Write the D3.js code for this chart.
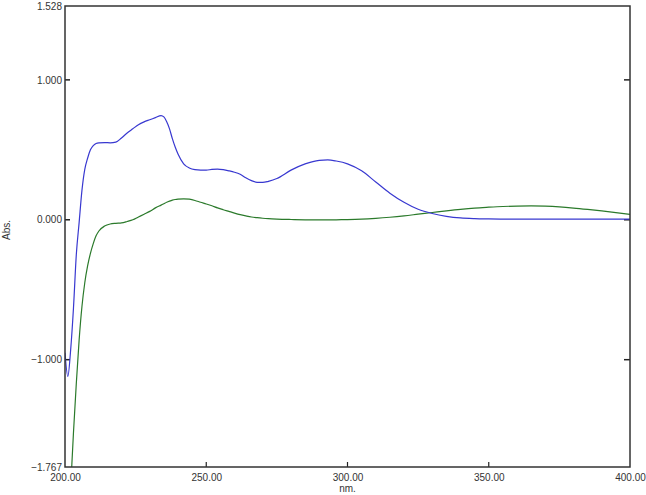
<!DOCTYPE html>
<html>
<head>
<meta charset="utf-8">
<script src="https://cdn.jsdelivr.net/npm/d3@7"></script>
<style>
  html, body { margin: 0; padding: 0; background: #fff; }
  text { font-family: "Liberation Sans", Arial, sans-serif; }
</style>
</head>
<body>
<svg id="chart" width="646" height="495"></svg>
<script>
const wavelengths = [200,201,202,203,204,205,206,207,208,209,210,211,212,214,216,218,220,222,224,226,228,230,232,234,235,236,237,238,239,240,242,244,246,248,250,252,254,256,258,260,262,264,266,268,270,272,275,280,285,290,293,296,300,305,310,315,320,325,330,335,340,345,350,355,360,365,370,375,380,385,390,395,400];

const blueAbs = [-0.95,-1.12,-0.93,-0.63,-0.25,-0.02,0.21,0.36,0.44,0.50,0.53,0.545,0.55,0.552,0.55,0.555,0.585,0.62,0.65,0.68,0.70,0.715,0.73,0.745,0.735,0.70,0.65,0.58,0.52,0.47,0.40,0.37,0.358,0.355,0.355,0.36,0.362,0.358,0.35,0.34,0.325,0.30,0.28,0.268,0.267,0.275,0.295,0.355,0.40,0.425,0.428,0.42,0.40,0.35,0.27,0.19,0.125,0.075,0.045,0.025,0.013,0.008,0.006,0.005,0.005,0.004,0.004,0.004,0.004,0.004,0.004,0.004,0.004];

const greenAbs = [-2.7,-2.3,-1.92,-1.52,-1.17,-0.86,-0.62,-0.45,-0.33,-0.24,-0.17,-0.115,-0.08,-0.045,-0.03,-0.025,-0.022,-0.012,0.0,0.02,0.04,0.06,0.085,0.105,0.115,0.125,0.133,0.14,0.145,0.148,0.15,0.147,0.138,0.125,0.113,0.10,0.085,0.072,0.06,0.048,0.037,0.028,0.02,0.015,0.011,0.008,0.005,0.002,0.0,-0.001,-0.001,0.0,0.001,0.004,0.01,0.018,0.028,0.04,0.052,0.064,0.075,0.084,0.09,0.095,0.098,0.099,0.097,0.092,0.084,0.074,0.063,0.051,0.038];

const yTickValues = [1.528, 1.000, 0.000, -1.000, -1.767];
const xTickValues = [200, 250, 300, 350, 400];
const xAxisTitle = "nm.";
const yAxisTitle = "Abs.";

const svg = d3.select("#chart");
const L = 65, R = 630, T = 6, B = 467;

const x = d3.scaleLinear().domain([200, 400]).range([L, R]);
const y = d3.scaleLinear().domain([-1.767, 1.528]).range([B, T]);

svg.append("defs").append("clipPath").attr("id", "clip")
  .append("rect").attr("x", L).attr("y", T).attr("width", R - L).attr("height", B - T);

const textColor = "#333";

// Left axis labels + inward ticks
const yg = svg.append("g").attr("transform", `translate(${L},0)`)
  .call(d3.axisLeft(y).tickValues(yTickValues).tickSize(0).tickPadding(3).tickFormat(d3.format(".3f")));
yg.select(".domain").remove();
yg.selectAll("text").attr("font-size", 10).attr("fill", textColor).attr("font-family", "Liberation Sans, Arial, sans-serif");

const innerY = [1.000, 0.000, -1.000];
svg.append("g").selectAll("line.lt").data(innerY).join("line")
  .attr("x1", L).attr("x2", L + 5).attr("y1", d => y(d)).attr("y2", d => y(d))
  .attr("stroke", "#222").attr("stroke-width", 1.5);
svg.append("g").selectAll("line.rt").data(innerY).join("line")
  .attr("x1", R - 6).attr("x2", R).attr("y1", d => y(d)).attr("y2", d => y(d))
  .attr("stroke", "#222").attr("stroke-width", 1.5);

// Bottom axis labels + inward ticks
const xg = svg.append("g").attr("transform", `translate(0,${B})`)
  .call(d3.axisBottom(x).tickValues(xTickValues).tickSize(0).tickPadding(7).tickFormat(d3.format(".2f")));
xg.select(".domain").remove();
xg.selectAll("text").attr("font-size", 10).attr("fill", textColor).attr("font-family", "Liberation Sans, Arial, sans-serif");

svg.append("g").selectAll("line").data([250, 300, 350]).join("line")
  .attr("x1", d => x(d)).attr("x2", d => x(d)).attr("y1", B).attr("y2", B - 5)
  .attr("stroke", "#222").attr("stroke-width", 1.2);

// Titles
svg.append("text").attr("x", (L + R) / 2).attr("y", 492).attr("text-anchor", "middle")
  .attr("font-size", 10).attr("fill", textColor).text(xAxisTitle);
svg.append("text").attr("transform", "translate(10,230) rotate(-90)").attr("text-anchor", "middle")
  .attr("font-size", 10).attr("fill", textColor).text(yAxisTitle);

// Curves
const line = (vals) => d3.line()
  .x((d, i) => x(wavelengths[i]))
  .y(d => y(d))
  .curve(d3.curveMonotoneX)(vals);

const plot = svg.append("g").attr("clip-path", "url(#clip)");
plot.append("path").attr("d", line(greenAbs)).attr("fill", "none").attr("stroke", "#2b7a2b").attr("stroke-width", 1.2);
plot.append("path").attr("d", line(blueAbs)).attr("fill", "none").attr("stroke", "#3838d0").attr("stroke-width", 1.2);

// Frame
svg.append("rect").attr("x", L).attr("y", T).attr("width", R - L).attr("height", B - T)
  .attr("fill", "none").attr("stroke", "#333").attr("stroke-width", 1.5);
</script>
</body>
</html>
